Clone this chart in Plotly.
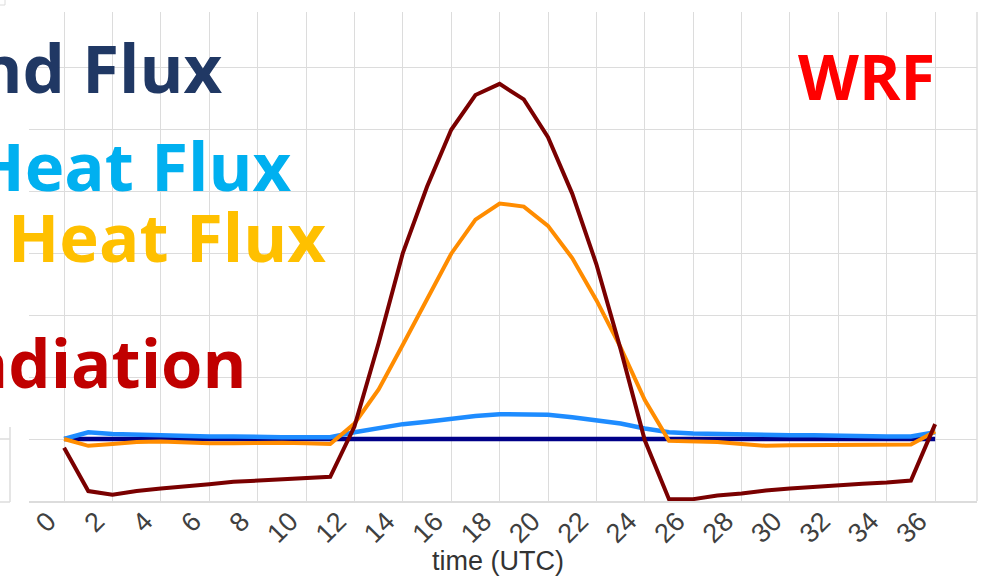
import plotly.graph_objects as go

# ---- data (hourly, 0..36 UTC) ----
hours = list(range(37))
tick_vals = list(range(0, 37, 2))
tick_text = [str(v) for v in tick_vals]

net_radiation = [-14, -84, -90, -84, -80, -77, -73, -69, -67, -64, -63, -61,
                 20, 155, 300, 407, 499, 555, 573, 548, 487, 396, 282, 145, -2,
                 -97, -97, -91, -88, -83, -80, -77, -74, -72, -70, -67, 24]
sensible_heat = [0, -11, -8, -5, -4, -6, -7, -7, -6, -6, -7, -8,
                 25, 80, 152, 225, 299, 354, 380, 375, 344, 292, 224, 148, 63,
                 -3, -4, -5, -8, -11, -10, -10, -9, -9, -9, -9, 12]
latent_heat = [0, 11, 8, 7, 5, 5, 4, 4, 3, 3, 3, 3,
               11, 18, 24, 28, 33, 37, 40, 40, 39, 35, 30, 25, 17,
               11, 9, 8, 7, 7, 6, 6, 5, 5, 4, 4, 11]
ground_flux = [0, 0, 0, 0, 0, 0, 0, 0, 0, 0, 0, 0, 0, 0, 0, 0, 0, 0, 0,
               0, 0, 0, 0, 0, 0, 0, 0, 0, 0, 0, 0, 0, 0, 0, 0, 0, 0]

labels = ["Ground Flux", "Latent Heat Flux", "Sensible Heat Flux", "Net Radiation"]
label_colors = ["#203864", "#00B0F0", "#FFC000", "#C00000"]
x_title = "time (UTC)"

W, H = 983, 581
L, R, T, B = 29, 6, 12, 80
pw, ph = W - L - R, H - T - B


def px(x):
    return (x - L) / pw


def py(y):
    return (H - B - y) / ph


GRID = "#dcdcdc"

fig = go.Figure()
fig.add_trace(go.Scatter(x=hours, y=ground_flux, mode="lines", name=labels[0],
                         line=dict(color="#000088", width=4.5)))
fig.add_trace(go.Scatter(x=hours, y=latent_heat, mode="lines", name=labels[1],
                         line=dict(color="#1E8CFF", width=4.5)))
fig.add_trace(go.Scatter(x=hours, y=sensible_heat, mode="lines", name=labels[2],
                         line=dict(color="#FF8C00", width=4)))
fig.add_trace(go.Scatter(x=hours, y=net_radiation, mode="lines", name=labels[3],
                         line=dict(color="#7A0000", width=4)))

shapes = [
    # white panel that hides the upper-left part of the grid
    dict(type="rect", xref="paper", yref="paper", x0=0, x1=px(352), y0=py(426), y1=1,
         fillcolor="white", line=dict(width=0), layer="between"),
    # right border of plot area
    dict(type="line", xref="paper", yref="paper", x0=1, x1=1, y0=0, y1=1,
         line=dict(color=GRID, width=1.5), layer="below"),
    # small frame fragment at far left
    dict(type="line", xref="paper", yref="paper", x0=px(10), x1=px(10), y0=py(502), y1=py(427),
         line=dict(color=GRID, width=1.5)),
    dict(type="line", xref="paper", yref="paper", x0=px(0), x1=px(10), y0=py(439), y1=py(439),
         line=dict(color=GRID, width=1.5)),
    dict(type="line", xref="paper", yref="paper", x0=px(0), x1=px(10), y0=py(502), y1=py(502),
         line=dict(color=GRID, width=1.5)),
    dict(type="line", xref="paper", yref="paper", x0=px(0), x1=px(5), y0=py(5), y1=py(5),
         line=dict(color=GRID, width=1)),
    dict(type="line", xref="paper", yref="paper", x0=px(5), x1=px(5), y0=py(0), y1=py(5),
         line=dict(color=GRID, width=1)),
]

ann = []
label_right = [225, 294, 328, 249]
label_center_y = [67, 165, 236, 362]
for text, col, xr, yc in zip(labels, label_colors, label_right, label_center_y):
    ann.append(dict(text="<b>%s</b>" % text, xref="paper", yref="paper",
                    x=px(xr), y=py(yc), xanchor="right", yanchor="middle",
                    showarrow=False, font=dict(family="Open Sans", size=67, color=col)))
ann.append(dict(text="<b>WRF</b>", xref="paper", yref="paper", x=px(866), y=py(75),
                xanchor="center", yanchor="middle", showarrow=False,
                font=dict(family="Open Sans", size=63, color="#FF0000")))
ann.append(dict(text=x_title, xref="paper", yref="paper", x=px(498), y=py(561),
                xanchor="center", yanchor="middle", showarrow=False,
                font=dict(family="Liberation Sans", size=27, color="#333333")))

fig.update_layout(
    width=W, height=H,
    margin=dict(l=L, r=R, t=T, b=B),
    plot_bgcolor="white", paper_bgcolor="white",
    showlegend=False,
    shapes=shapes,
    annotations=ann,
    xaxis=dict(range=[-1.45, 37.73], tickmode="array", tickvals=tick_vals, ticktext=tick_text,
               tickangle=-45, showgrid=True, gridcolor=GRID, gridwidth=1,
               zeroline=False, showline=True, linecolor=GRID, linewidth=1.5, ticks="",
               ticklabelshift=-16, ticklabelstandoff=-8,
               tickfont=dict(family="Liberation Sans", size=27, color="#404040")),
    yaxis=dict(range=[-100, 689], dtick=100, tick0=0, showgrid=True, gridcolor=GRID, gridwidth=1,
               zeroline=False, showticklabels=False, ticks=""),
)

fig.write_html("out.html")
